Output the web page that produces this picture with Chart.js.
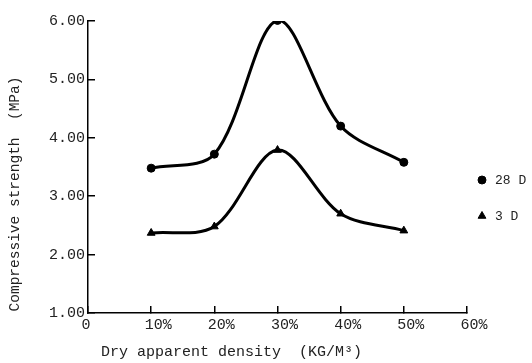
<!DOCTYPE html>
<html>
<head>
<meta charset="utf-8">
<script src="https://cdn.jsdelivr.net/npm/chart.js@4/dist/chart.umd.min.js"></script>
<style>
  html, body { margin: 0; padding: 0; background: #fff; }
  #wrap { width: 532px; height: 363px; }
</style>
</head>
<body>
<div id="wrap"><canvas id="c" width="532" height="363"></canvas></div>
<script>
// ---- data ----
const densities = [10, 20, 30, 40, 50];          // Dry apparent density (%)
const strength28D = [3.48, 3.72, 6.01, 4.20, 3.58];
const strength3D  = [2.37, 2.48, 3.79, 2.70, 2.41];
const seriesLabels = ['28 D', '3 D'];
const xTicks = [0, 10, 20, 30, 40, 50, 60];
const yTicks = [1, 2, 3, 4, 5, 6];
const xTitle = 'Dry apparent density  (KG/M\u00B3)';
const yTitle = 'Compressive strength  (MPa)';

const FONT = '"Liberation Mono", "DejaVu Sans Mono", monospace';

const toPoints = (xs, ys) => xs.map((x, i) => ({ x: x, y: ys[i] }));

const extras = {
  id: 'extras',
  afterDraw(chart) {
    const ctx = chart.ctx;
    const ca = chart.chartArea;
    ctx.save();
    ctx.fillStyle = '#222';
    // x title
    ctx.font = '15px ' + FONT;
    ctx.textAlign = 'left';
    ctx.textBaseline = 'middle';
    ctx.fillText(xTitle, ca.left + 13, ca.bottom + 39);
    // y title
    ctx.save();
    ctx.translate(15, (ca.top + ca.bottom) / 2 + 27);
    ctx.rotate(-Math.PI / 2);
    ctx.font = '14.5px ' + FONT;
    ctx.textAlign = 'center';
    ctx.fillText(yTitle, 0, 0);
    ctx.restore();
    // legend
    ctx.font = '13px ' + FONT;
    chart.data.datasets.forEach((ds, i) => {
      const y = ca.top + 159 + i * 36;
      const x = ca.right + 15;
      ctx.fillStyle = '#000';
      ctx.strokeStyle = '#000';
      Chart.helpers.drawPoint(ctx, {
        pointStyle: ds.pointStyle, radius: ds.pointStyle === 'triangle' ? 4.5 : 4,
        borderWidth: 1, rotation: 0
      }, x, y);
      ctx.fillStyle = '#222';
      ctx.fillText(ds.label, x + 13, y + 1);
    });
    ctx.restore();
  }
};

new Chart(document.getElementById('c'), {
  type: 'line',
  data: {
    datasets: [
      {
        label: seriesLabels[0],
        data: toPoints(densities, strength28D),
        borderColor: '#000', backgroundColor: '#000',
        borderWidth: 3, pointStyle: 'circle', pointRadius: 4,
        pointBorderWidth: 1, tension: 0.32, fill: false
      },
      {
        label: seriesLabels[1],
        data: toPoints(densities, strength3D),
        borderColor: '#000', backgroundColor: '#000',
        borderWidth: 3, pointStyle: 'triangle', pointRadius: 4.5,
        pointBorderWidth: 1, tension: 0.32, fill: false
      }
    ]
  },
  options: {
    responsive: false,
    animation: false,
    devicePixelRatio: 1,
    layout: { padding: { left: 48, right: 65, top: 21, bottom: 26 } },
    plugins: { legend: { display: false }, tooltip: { enabled: false } },
    scales: {
      x: {
        type: 'linear', min: 0, max: 60,
        afterBuildTicks: (s) => { s.ticks = xTicks.map(v => ({ value: v })); },
        afterFit: (s) => { s.height = 24; s.paddingLeft = 0; s.paddingRight = 0; },
        border: { display: true, color: '#000', width: 1.5 },
        grid: { display: true, drawOnChartArea: false, drawTicks: true, tickLength: -7, color: '#000', lineWidth: 1.5 },
        ticks: {
          padding: 10, labelOffset: 7, color: '#222', maxRotation: 0, autoSkip: false,
          font: { family: FONT, size: 15 },
          callback: (v) => v === 0 ? '0  ' : v + '%'
        }
      },
      y: {
        type: 'linear', min: 1, max: 6,
        afterBuildTicks: (s) => { s.ticks = yTicks.map(v => ({ value: v })); },
        afterFit: (s) => { s.width = 40; s.paddingTop = 0; s.paddingBottom = 0; },
        border: { display: true, color: '#000', width: 1.5 },
        grid: { display: true, drawOnChartArea: false, drawTicks: true, tickLength: -7, color: '#000', lineWidth: 1.5 },
        ticks: {
          padding: 10, color: '#222', autoSkip: false,
          font: { family: FONT, size: 15 },
          callback: (v) => Number(v).toFixed(2)
        }
      }
    }
  },
  plugins: [extras]
});
</script>
</body>
</html>
